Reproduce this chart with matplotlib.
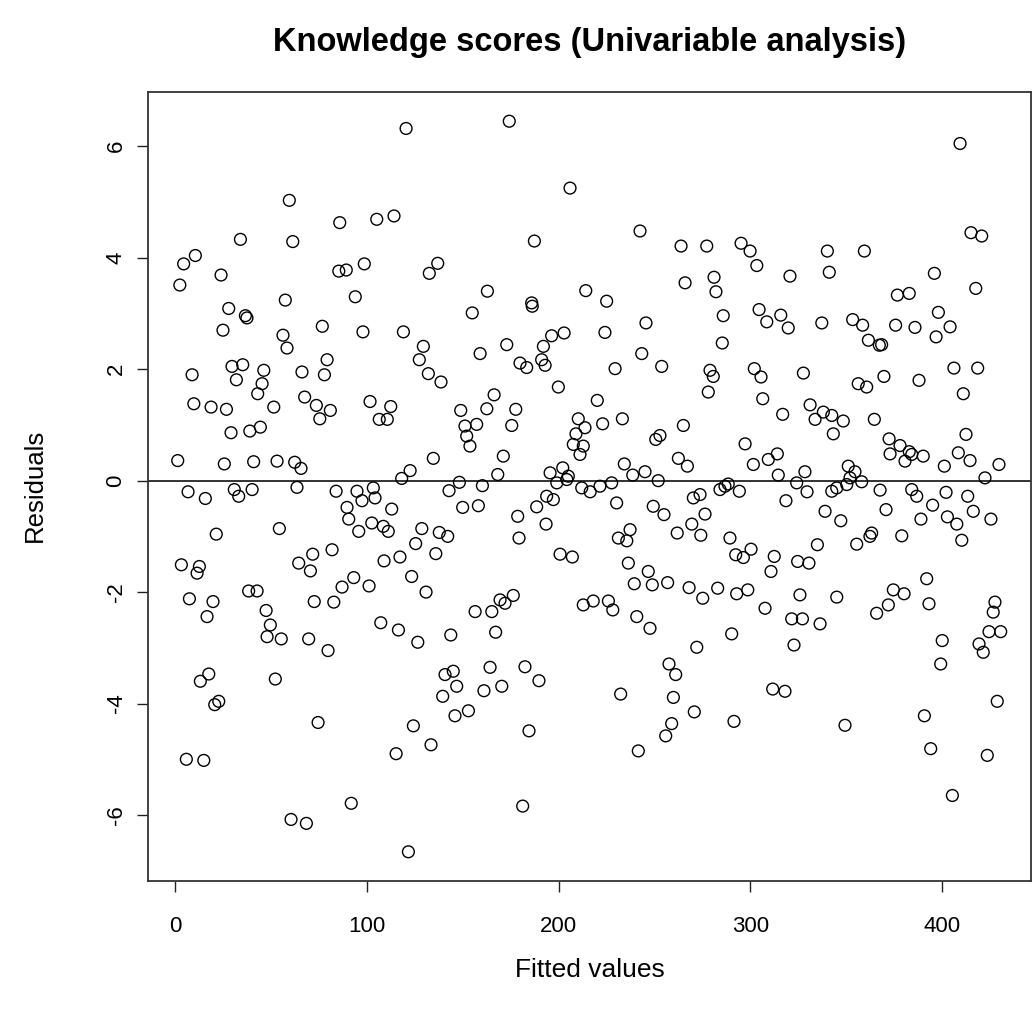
import matplotlib
matplotlib.use("Agg")
import matplotlib.pyplot as plt
import numpy as np

plt.rcParams['font.family'] = ['Liberation Sans', 'DejaVu Sans']

title = "Knowledge scores (Univariable analysis)"
xlabel = "Fitted values"
ylabel = "Residuals"
xticks = [0, 100, 200, 300, 400]
yticks = [-6, -4, -2, 0, 2, 4, 6]

fitted = [
    59.6, 85.9, 34.1, 61.4, 10.6, 4.5, 24.0, 2.5, 85.4, 89.3, 98.7, 57.5, 94.0, 28.0, 36.7, 37.5, 25.0, 56.3, 58.4, 76.8, 98.0,
    79.3, 8.9, 29.7, 35.3, 32.0, 46.3, 45.4, 43.1, 66.2, 77.9, 9.8, 18.8, 26.8, 51.5, 67.6, 73.7, 81.0, 75.5, 29.2, 39.0, 44.5,
    1.4, 25.7, 41.0, 53.2, 62.4, 65.7, 6.8, 15.8, 30.9, 33.2, 40.2, 63.6, 84.0, 94.9, 97.5, 89.7, 90.6, 95.8, 21.5, 54.4, 81.9,
    71.8, 64.5, 70.6, 3.3, 12.7, 11.5, 93.2, 87.1, 38.4, 42.8, 7.5, 19.8, 72.6, 82.8, 16.7, 47.5,
    49.7, 48.0, 55.4, 69.7, 79.8, 17.6, 13.2, 52.3, 20.7, 22.8, 74.6, 5.9, 15.0, 91.9, 60.5, 68.5,
    120.5, 174.3, 206.0, 105.2, 114.2, 187.4, 132.6, 137.0, 162.9, 214.2, 155.0, 186.0, 186.3, 119.1, 129.5, 159.1, 173.0, 196.4, 202.9, 192.1,
    127.4, 179.9, 183.4, 191.2, 193.0, 199.9, 132.1, 138.7, 101.7, 112.5, 106.5, 110.7, 166.4, 162.6, 149.0, 177.7, 175.6, 151.2, 157.3,
    152.1, 153.8, 210.3, 209.1, 213.8, 207.7, 212.9, 211.2, 134.7, 171.2, 122.6, 118.2, 195.6, 202.2, 205.1, 168.3, 148.3, 142.9, 160.3,
    103.4, 104.3, 199.1, 204.3, 193.8, 197.3, 212.1, 216.5, 113.0, 102.6, 108.6, 111.2, 150.0, 158.2, 188.6, 178.7, 193.5, 128.7, 125.5,
    137.8, 142.2, 136.0, 179.4, 109.0, 117.3, 123.4, 101.2, 200.8, 207.2, 130.9, 169.5, 176.4, 172.1, 156.5, 165.2, 212.9,
    107.3, 116.5, 126.6, 143.8, 167.2, 140.8, 145.1, 146.9, 139.6, 164.3, 161.1, 170.4, 182.5, 189.8, 146.0, 153.0, 124.3, 133.5, 115.3,
    184.6, 181.3, 121.7,
    242.5, 263.9, 277.3, 295.2, 299.9, 303.4, 320.7, 266.0, 281.1, 282.1, 225.1, 224.2, 245.6, 285.9, 304.6, 308.6, 315.9, 319.8, 285.4, 243.4,
    229.5, 253.8, 279.0, 280.7, 278.1, 302.1, 305.6, 327.7, 306.5, 316.9, 220.2, 223.0, 233.3, 265.1, 250.7, 252.9, 297.3, 262.5, 267.2,
    301.6, 309.4, 314.1, 234.3, 238.7, 245.1, 252.0, 314.6, 328.5, 324.2, 221.6, 227.7, 284.2, 286.8, 288.5, 294.3, 270.3, 273.8, 230.3,
    249.4, 255.0, 318.6, 276.4, 269.5, 261.9, 274.2, 237.3, 231.2, 235.6, 289.4, 300.4, 292.4, 296.4, 312.5, 310.8, 324.7, 236.4, 246.8,
    239.5, 248.9, 256.9, 268.1, 275.2, 283.0, 292.9, 298.7, 325.9, 218.1, 226.0, 228.3, 240.8, 307.7, 321.6, 327.2,
    247.7, 290.3, 272.1, 322.8, 257.6, 261.1, 232.4, 259.9, 311.7, 318.1, 270.8, 291.5, 259.0, 255.9, 241.6,
    409.4, 415.1, 420.7, 340.2, 359.5, 341.2, 396.0, 417.6, 376.7, 382.9, 337.3, 353.4, 358.6, 375.8, 385.9, 398.1, 404.2, 396.9, 361.6,
    367.3, 368.5,
    406.2, 418.6, 356.3, 360.7, 369.7, 388.0, 411.1, 331.2, 333.8, 338.1, 342.5, 348.5, 343.3, 364.7, 412.5, 372.4, 378.1, 382.9, 384.2,
    372.9, 380.7, 390.2, 401.2, 408.5, 414.6, 429.7, 422.4, 351.1, 354.6, 352.0, 358.1, 350.3, 345.1, 342.5, 329.6, 367.7, 384.2, 386.8,
    402.1, 413.4, 339.0, 347.2, 370.8, 395.1, 389.0, 402.8, 407.7, 416.3, 425.5, 363.3, 362.4, 355.5, 379.0, 410.3, 335.0, 330.6, 392.0,
    374.6, 380.2, 372.0, 365.9, 345.1, 393.2, 427.6, 426.7, 336.4,
    400.1, 424.5, 430.6, 419.3, 421.5, 399.3, 428.8, 349.4, 390.8, 394.1, 423.6, 405.4,
]

residuals = [
    5.03, 4.63, 4.33, 4.29, 4.04, 3.89, 3.69, 3.51, 3.76, 3.78, 3.89, 3.24, 3.30, 3.09, 2.96, 2.92, 2.70, 2.61, 2.38, 2.77, 2.67,
    2.17, 1.90, 2.05, 2.08, 1.81, 1.98, 1.74, 1.56, 1.95, 1.90, 1.38, 1.32, 1.28, 1.32, 1.50, 1.35, 1.26, 1.11, 0.86, 0.89, 0.96,
    0.36, 0.30, 0.34, 0.35, 0.33, 0.22, -0.20, -0.32, -0.16, -0.28, -0.16, -0.12, -0.19, -0.19, -0.36, -0.48, -0.69, -0.91, -0.96, -0.86, -1.24,
    -1.32, -1.48, -1.62, -1.51, -1.54, -1.66, -1.74, -1.91, -1.98, -1.98, -2.12, -2.17, -2.17, -2.18, -2.44, -2.33,
    -2.59, -2.80, -2.84, -2.84, -3.05, -3.47, -3.60, -3.56, -4.02, -3.96, -4.34, -5.00, -5.02, -5.79, -6.08, -6.15,
    6.32, 6.45, 5.25, 4.69, 4.75, 4.30, 3.72, 3.90, 3.40, 3.41, 3.01, 3.19, 3.13, 2.67, 2.41, 2.28, 2.44, 2.60, 2.65, 2.41,
    2.17, 2.11, 2.03, 2.17, 2.07, 1.68, 1.92, 1.77, 1.42, 1.33, 1.10, 1.10, 1.54, 1.29, 1.26, 1.28, 0.99, 0.98, 1.01,
    0.80, 0.62, 1.11, 0.84, 0.95, 0.65, 0.62, 0.47, 0.40, 0.44, 0.18, 0.04, 0.14, 0.23, 0.08, 0.11, -0.03, -0.18, -0.09,
    -0.13, -0.31, -0.04, 0.02, -0.28, -0.34, -0.13, -0.20, -0.51, -0.76, -0.82, -0.91, -0.48, -0.45, -0.47, -0.64, -0.78, -0.86, -1.13,
    -0.93, -1.00, -1.31, -1.03, -1.44, -1.37, -1.72, -1.89, -1.32, -1.37, -2.00, -2.14, -2.06, -2.20, -2.35, -2.35, -2.23,
    -2.55, -2.68, -2.90, -2.77, -2.72, -3.48, -3.42, -3.69, -3.87, -3.35, -3.77, -3.69, -3.34, -3.59, -4.22, -4.13, -4.40, -4.74, -4.90,
    -4.49, -5.84, -6.66,
    4.48, 4.21, 4.21, 4.26, 4.12, 3.86, 3.67, 3.55, 3.65, 3.39, 3.22, 2.66, 2.83, 2.96, 3.07, 2.85, 2.97, 2.74, 2.47, 2.28,
    2.01, 2.05, 1.98, 1.87, 1.59, 2.01, 1.86, 1.93, 1.47, 1.19, 1.44, 1.02, 1.11, 0.99, 0.74, 0.81, 0.66, 0.40, 0.26,
    0.29, 0.38, 0.48, 0.30, 0.10, 0.16, 0.00, 0.10, 0.16, -0.04, -0.10, -0.04, -0.16, -0.10, -0.06, -0.19, -0.31, -0.25, -0.40,
    -0.46, -0.61, -0.36, -0.60, -0.78, -0.94, -0.98, -0.88, -1.03, -1.08, -1.03, -1.23, -1.33, -1.38, -1.36, -1.63, -1.45, -1.48, -1.63,
    -1.85, -1.87, -1.83, -1.92, -2.11, -1.93, -2.03, -1.96, -2.05, -2.16, -2.16, -2.32, -2.44, -2.29, -2.48, -2.48,
    -2.65, -2.75, -2.99, -2.95, -3.29, -3.48, -3.83, -3.89, -3.74, -3.78, -4.15, -4.32, -4.36, -4.58, -4.85,
    6.05, 4.45, 4.39, 4.12, 4.12, 3.74, 3.72, 3.45, 3.33, 3.36, 2.83, 2.89, 2.79, 2.79, 2.75, 3.02, 2.76, 2.58, 2.52,
    2.43, 2.44,
    2.02, 2.02, 1.74, 1.68, 1.87, 1.80, 1.56, 1.36, 1.10, 1.23, 1.17, 1.07, 0.84, 1.10, 0.83, 0.75, 0.63, 0.52, 0.47,
    0.48, 0.35, 0.44, 0.26, 0.50, 0.36, 0.29, 0.05, 0.26, 0.16, 0.05, -0.02, -0.07, -0.13, -0.19, -0.20, -0.17, -0.16, -0.28,
    -0.21, -0.28, -0.55, -0.72, -0.52, -0.44, -0.69, -0.65, -0.78, -0.55, -0.69, -0.94, -1.00, -1.14, -0.99, -1.07, -1.15, -1.48, -1.76,
    -1.96, -2.03, -2.23, -2.38, -2.09, -2.21, -2.18, -2.36, -2.57,
    -2.87, -2.71, -2.71, -2.93, -3.08, -3.29, -3.96, -4.39, -4.22, -4.81, -4.93, -5.65,
]

W, H = 1033, 1017
fig = plt.figure(figsize=(W / 100, H / 100), dpi=100)
box_l, box_r, box_t, box_b = 148, 1031, 92, 881
ax = fig.add_axes([box_l / W, 1 - box_b / H, (box_r - box_l) / W, (box_b - box_t) / H])

ax.scatter(fitted, residuals, s=72, facecolors='none', edgecolors='black', linewidths=1.0, zorder=3)
ax.axhline(0, color='#222222', linewidth=1.3, zorder=2)


def rlim(v):
    lo, hi = min(v), max(v)
    d = (hi - lo) * 0.04
    return lo - d, hi + d


ax.set_xlim(-14.1, 446.4)
ax.set_ylim(*rlim(residuals))

ax.set_xticks(xticks)
ax.set_yticks(yticks)
ax.set_xticklabels([str(t) for t in xticks])
ax.set_yticklabels([str(t) for t in yticks])
ax.tick_params(axis='both', direction='out', length=8, width=1.0, color='#222222', labelsize=16)
ax.tick_params(axis='x', pad=17)
ax.tick_params(axis='y', pad=15)
for lab in ax.get_yticklabels():
    lab.set_rotation(90)
    lab.set_ha('center')
    lab.set_va('center')

for sp in ax.spines.values():
    sp.set_color('#333333')
    sp.set_linewidth(1.3)

fig.text(590 / W, 1 - 43 / H, title, ha='center', va='center', fontsize=23.5, fontweight='bold')
fig.text(590 / W, 1 - 970 / H, xlabel, ha='center', va='center', fontsize=19)
fig.text(35 / W, 1 - 485 / H, ylabel, ha='center', va='center', fontsize=18.5, rotation=90)

fig.savefig("out.png", dpi=100)
